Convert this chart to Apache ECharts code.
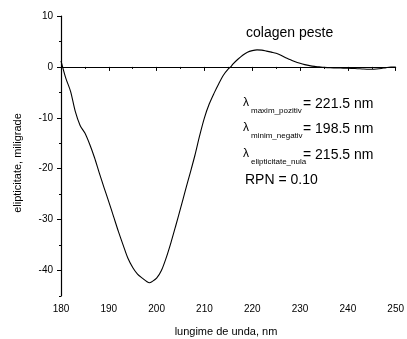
<!DOCTYPE html>
<html>
<head>
<meta charset="utf-8">
<script src="https://cdn.jsdelivr.net/npm/echarts@6/dist/echarts.min.js"></script>
<style>html,body{margin:0;padding:0;background:#fff}#c{width:407px;height:339px}</style>
</head>
<body>
<div id="c"></div>
<script>
var wavelength = [180,181,182,183,184,185,186,187,188,189,190,191,192,193,194,195,196,197,198,198.5,199,200,201,202,203,204,205,206,207,208,209,210,211,212,213,214,215,215.5,216,217,218,219,220,221,222,223,224,225,226,227,228,229,230,231,232,233,234,235,236,237,238,239,240,241,242,243,244,245,246,247,248,249,250];
var ellipticity = [1.2,-2.2,-4.8,-8.8,-11.5,-13.0,-15.2,-17.8,-20.8,-23.7,-26.5,-29.4,-32.3,-35.0,-37.6,-39.4,-40.7,-41.5,-42.2,-42.4,-42.2,-41.5,-40.0,-37.5,-34.5,-31.2,-27.8,-24.3,-20.9,-17.4,-13.5,-10.0,-7.3,-5.2,-3.3,-1.6,-0.4,0.0,0.6,1.5,2.3,2.9,3.2,3.35,3.3,3.1,2.9,2.7,2.3,1.8,1.4,1.0,0.7,0.45,0.25,0.1,0.0,-0.1,-0.15,-0.2,-0.2,-0.25,-0.25,-0.3,-0.35,-0.4,-0.45,-0.45,-0.4,-0.3,-0.15,-0.05,-0.05];
var yMajorTicks = [-40,-30,-20,-10,0,10];
var titleText = 'colagen peste';
var xTitle = 'lungime de unda, nm';
var yTitle = 'elipticitate, miligrade';
var annotations = [
  {sub: 'maxim_pozitiv', val: '= 221.5 nm'},
  {sub: 'minim_negativ', val: '= 198.5 nm'},
  {sub: 'elipticitate_nula', val: '= 215.5 nm'}
];
var rpnText = 'RPN = 0.10';

var FONT = 'Liberation Sans, Arial, sans-serif';
var chart = echarts.init(document.getElementById('c'), null, {renderer: 'canvas'});
var pts = wavelength.map(function (w, i) { return [w, ellipticity[i]]; });

var graphics = [
  {type: 'text', left: 246, top: 26, style: {text: titleText, font: '14px ' + FONT, fill: '#000'}},
  {type: 'text', x: 226, y: 332, style: {text: xTitle, font: '11px ' + FONT, fill: '#000', textAlign: 'center', textVerticalAlign: 'middle'}},
  {type: 'text', x: 18, y: 163, rotation: Math.PI / 2, style: {text: yTitle, font: '11px ' + FONT, fill: '#000', textAlign: 'center', textVerticalAlign: 'middle'}},
  {type: 'text', x: 245, y: 180, style: {text: rpnText, font: '14px ' + FONT, fill: '#000', textVerticalAlign: 'middle'}}
];
var rowY = [103, 128, 154];
annotations.forEach(function (a, i) {
  graphics.push({type: 'text', x: 243, y: rowY[i], style: {text: 'λ', font: '12px ' + FONT, fill: '#000', textVerticalAlign: 'middle'}});
  graphics.push({type: 'text', x: 251, y: rowY[i] + 8, style: {text: a.sub, font: '8px ' + FONT, fill: '#000', textVerticalAlign: 'middle'}});
  graphics.push({type: 'text', x: 303, y: rowY[i] + 1, style: {text: a.val, font: '14px ' + FONT, fill: '#000', textVerticalAlign: 'middle'}});
});

chart.setOption({
  animation: false,
  backgroundColor: '#fff',
  grid: {left: 61, right: 6, top: 16, bottom: 43, containLabel: false},
  xAxis: {
    type: 'value', min: 180, max: 250, interval: 10,
    axisLine: {lineStyle: {color: '#000', width: 1.2}},
    axisTick: {show: true, inside: false, length: 4, lineStyle: {color: '#000'}},
    minorTick: {show: true, splitNumber: 2, length: 2, lineStyle: {color: '#000'}},
    axisLabel: {color: '#000', fontSize: 10, fontFamily: FONT, margin: 8},
    splitLine: {show: false}
  },
  yAxis: [{
    type: 'value', min: -45, max: 10,
    position: 'left',
    axisLine: {show: true, lineStyle: {color: '#000', width: 1.2}},
    axisTick: {show: true, length: 4, customValues: yMajorTicks, lineStyle: {color: '#000'}},
    axisLabel: {color: '#000', fontSize: 10, fontFamily: FONT, margin: 8, customValues: yMajorTicks},
    splitLine: {show: false}
  }, {
    type: 'value', min: -45, max: 10, interval: 5,
    position: 'left', offset: 0,
    axisLine: {show: false},
    axisTick: {show: true, length: 2, lineStyle: {color: '#000'}},
    axisLabel: {show: false},
    splitLine: {show: false}
  }],
  series: [{
    type: 'line', data: pts, showSymbol: false, smooth: 0.3,
    lineStyle: {color: '#000', width: 1.1},
    yAxisIndex: 0
  }],
  graphic: graphics
});
</script>
</body>
</html>
